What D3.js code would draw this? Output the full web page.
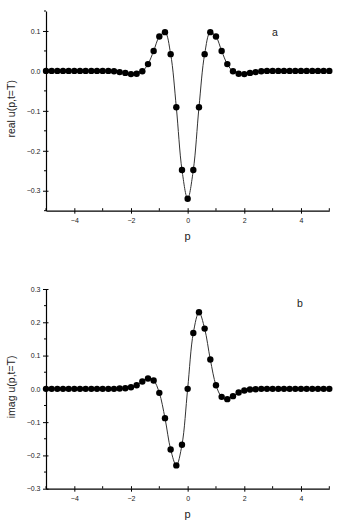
<!DOCTYPE html>
<html>
<head>
<meta charset="utf-8">
<script src="https://cdn.jsdelivr.net/npm/d3@7"></script>
<style>
  body { margin: 0; background: #fff; }
  svg { font-family: "Liberation Sans", Arial, sans-serif; }
  text { fill: #222; }
</style>
</head>
<body>
<div id="chart"></div>
<script>
// momentum grid p
const pValues = [-5.0, -4.8, -4.6, -4.4, -4.2, -4.0, -3.8, -3.6, -3.4, -3.2,
  -3.0, -2.8, -2.6, -2.4, -2.2, -2.0, -1.8, -1.6, -1.4, -1.2,
  -1.0, -0.8, -0.6, -0.4, -0.2, 0.0, 0.2, 0.4, 0.6, 0.8,
  1.0, 1.2, 1.4, 1.6, 1.8, 2.0, 2.2, 2.4, 2.6, 2.8,
  3.0, 3.2, 3.4, 3.6, 3.8, 4.0, 4.2, 4.4, 4.6, 4.8, 5.0];

// real part (panel a)
const realValues = [0, 0, 0, 0, 0, 0, 0, 0, 0, 0,
  0, 0, -0.001, -0.003, -0.005, -0.008, -0.007, -0.001, 0.017, 0.050,
  0.086, 0.097, 0.042, -0.091, -0.248, -0.320, -0.248, -0.091, 0.042, 0.097,
  0.086, 0.050, 0.017, -0.001, -0.007, -0.008, -0.005, -0.003, -0.001, 0,
  0, 0, 0, 0, 0, 0, 0, 0, 0, 0, 0];

// imaginary part (panel b)
const imagValues = [0, 0, 0, 0, 0, 0, 0, 0, 0, 0,
  0, 0, 0, 0.001, 0.002, 0.005, 0.011, 0.022, 0.031, 0.025,
  -0.012, -0.088, -0.182, -0.230, -0.168, 0.000, 0.168, 0.230, 0.181, 0.088,
  0.011, -0.024, -0.031, -0.022, -0.011, -0.005, -0.002, -0.001, 0, 0,
  0, 0, 0, 0, 0, 0, 0, 0, 0, 0, 0];

const xTicks = [-4, -2, 0, 2, 4];
const xMinor = [-5, -3, -1, 1, 3, 5];
const realTicks = [-0.3, -0.2, -0.1, 0.0, 0.1];
const realMinor = [-0.35, -0.25, -0.15, -0.05, 0.05, 0.15];
const imagTicks = [-0.3, -0.2, -0.1, 0.0, 0.1, 0.2, 0.3];
const imagMinor = [-0.25, -0.15, -0.05, 0.05, 0.15, 0.25];

const width = 338, height = 522;

const svg = d3.select("#chart").append("svg")
  .attr("width", width)
  .attr("height", height);

const xScale = d3.scaleLinear().domain([-5, 5]).range([46, 329.3]);

function panel(values, domain, top, bottom, ticks, minor, yTitle, letter, letterPos, xLabelY, pTitleY) {
  const yScale = d3.scaleLinear().domain(domain).range([bottom, top]);
  const g = svg.append("g");

  // x axis
  const xAxis = g.append("g").attr("transform", `translate(0,${bottom})`)
    .call(d3.axisBottom(xScale).tickValues(xTicks).tickSize(3).tickSizeOuter(0)
      .tickFormat(d3.format("d")));
  xAxis.selectAll(".tick text").attr("font-size", 7).attr("dy", 0).attr("y", xLabelY - bottom + 2.5);
  xAxis.selectAll(".tick").append("line").attr("y2", -2.5).attr("stroke", "#000");
  xAxis.selectAll("line.minor").data(xMinor).join("line").attr("class", "minor")
    .attr("x1", d => xScale(d)).attr("x2", d => xScale(d))
    .attr("y1", 0).attr("y2", -2.5).attr("stroke", "#000");

  // y axis
  const yAxis = g.append("g").attr("transform", `translate(${xScale(-5)},0)`)
    .call(d3.axisLeft(yScale).tickValues(ticks).tickSize(3).tickSizeOuter(0)
      .tickFormat(d3.format(".1f")));
  yAxis.selectAll(".tick text").attr("font-size", 7).attr("x", -5.5);
  yAxis.selectAll(".tick").append("line").attr("x2", 2.5).attr("stroke", "#000");
  yAxis.selectAll("line.minor").data(minor).join("line").attr("class", "minor")
    .attr("y1", d => yScale(d)).attr("y2", d => yScale(d))
    .attr("x1", 0).attr("x2", -2).attr("stroke", "#000");
  g.selectAll(".domain").attr("stroke", "#000").attr("stroke-width", 1.2);
  g.selectAll(".tick text").attr("fill", "#222");

  const pts = pValues.map((p, i) => ({ p, v: values[i] }));

  const line = d3.line()
    .x(d => xScale(d.p))
    .y(d => yScale(d.v))
    .curve(d3.curveCatmullRom.alpha(0.5));

  g.append("path").datum(pts)
    .attr("d", line)
    .attr("fill", "none")
    .attr("stroke", "#333")
    .attr("stroke-width", 1);

  g.selectAll("circle").data(pts).join("circle")
    .attr("cx", d => xScale(d.p))
    .attr("cy", d => yScale(d.v))
    .attr("r", 3.2)
    .attr("fill", "#000");

  // titles
  g.append("text")
    .attr("x", (xScale(-5) + xScale(5)) / 2)
    .attr("y", pTitleY)
    .attr("text-anchor", "middle")
    .attr("font-size", 11)
    .text("p");

  g.append("text")
    .attr("transform", `translate(15,${(top + bottom) / 2 - 2}) rotate(-90)`)
    .attr("text-anchor", "middle")
    .attr("font-size", 10.5)
    .text(yTitle);

  g.append("text")
    .attr("x", letterPos[0])
    .attr("y", letterPos[1])
    .attr("text-anchor", "middle")
    .attr("font-size", 10.5)
    .text(letter);
}

panel(realValues, [-0.35, 0.15], 11, 210.7, realTicks, realMinor, "real u(p,t=T)", "a", [275, 36], 220.5, 240);
panel(imagValues, [-0.3, 0.3], 289, 488.7, imagTicks, imagMinor, "imag u(p,t=T)", "b", [300, 307], 498.5, 518);
</script>
</body>
</html>
